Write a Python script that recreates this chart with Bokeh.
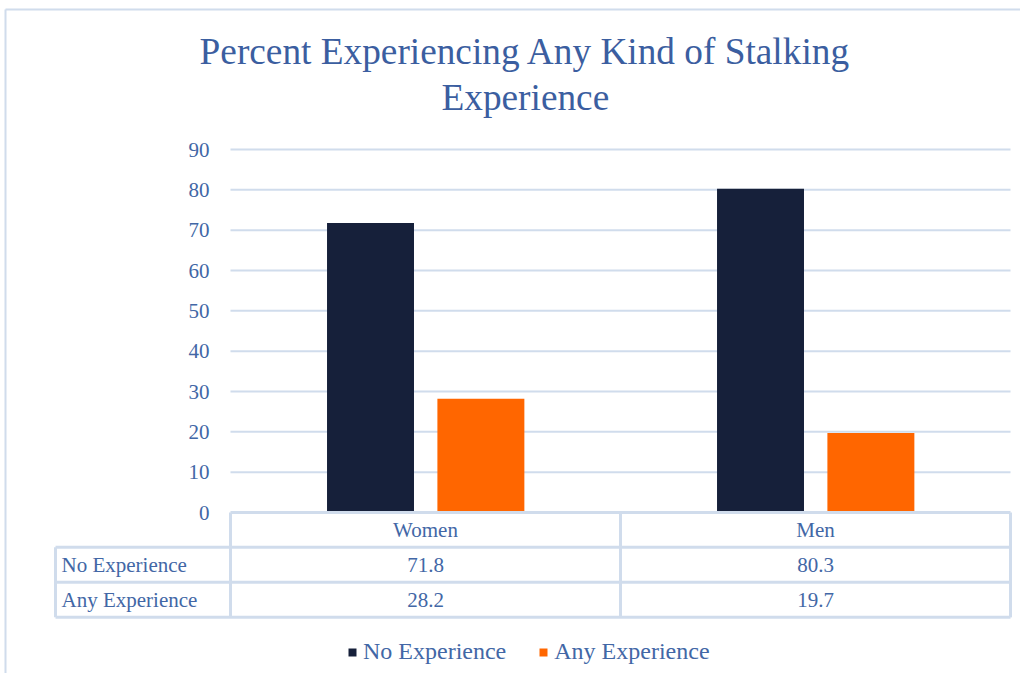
from bokeh.plotting import figure
from bokeh.models import Range1d, Legend, LegendItem
from bokeh.core.properties import value
from bokeh.embed import file_html
from bokeh.resources import INLINE

# ---- data ----
categories = ["Women", "Men"]
series_names = ["No Experience", "Any Experience"]
no_experience = [71.8, 80.3]
any_experience = [28.2, 19.7]
y_ticks = [0, 10, 20, 30, 40, 50, 60, 70, 80, 90]
title_text = "Percent Experiencing Any Kind of Stalking\nExperience"

# ---- style ----
FONT_NAME = "Liberation Serif"
FONT = value(FONT_NAME)
TXT = "#4267A6"
GRID = "#D0DCEC"
DARK = "#16203A"
ORANGE = "#FF6600"

W, H = 1020, 673
px_per_x = 390.0
left_px = 230.0
px_per_y = 4.0333
zero_px_from_top = 512.0
x0 = -left_px / px_per_x
x1 = (W - left_px) / px_per_x
y1 = zero_px_from_top / px_per_y
y0 = -(H - zero_px_from_top) / px_per_y

p = figure(width=W, height=H, x_range=Range1d(x0, x1), y_range=Range1d(y0, y1),
           output_backend="svg", toolbar_location=None,
           x_axis_location=None, y_axis_location=None,
           min_border=0, min_border_left=0, min_border_right=0,
           min_border_top=0, min_border_bottom=0)
p.grid.visible = False
p.outline_line_color = None
p.background_fill_color = "white"

n = len(categories)
centers = [i + 0.5 for i in range(n)]

# gridlines
grid_y = [t for t in y_ticks if t > 0]
p.segment(x0=[0] * len(grid_y), x1=[n] * len(grid_y), y0=grid_y, y1=grid_y,
          line_color=GRID, line_width=2)

# bars
bw = 0.223
off = 0.141
r_no = p.vbar(x=[c - off for c in centers], top=no_experience, bottom=0, width=bw,
              fill_color=DARK, line_color=None)
r_any = p.vbar(x=[c + off + 0.001 for c in centers], top=any_experience, bottom=0, width=bw,
               fill_color=ORANGE, line_color=None)

# value-axis labels
p.text(x=[-0.054] * len(y_ticks), y=y_ticks, text=[str(t) for t in y_ticks],
       text_font=FONT, text_font_size="21px", text_color=TXT,
       text_align="right", text_baseline="middle")

# title
p.text(x=[0.756], y=[108.6], text=[title_text], text_font=FONT,
       text_font_size="37.3px",
       text_color="#3B5EA0", text_align="center", text_baseline="middle",
       text_line_height=1.12)

# data table
row_h = 8.6
hdr_bot = -row_h
r1_bot = -2 * row_h - 0.1
r2_bot = -26.0
tab_left = -0.4487
hx0 = [0, tab_left, tab_left, tab_left]
hx1 = [n, n, n, n]
hy = [0, hdr_bot, r1_bot, r2_bot]
p.segment(x0=hx0, x1=hx1, y0=hy, y1=hy, line_color=GRID, line_width=3)
vx = [tab_left] + list(range(n + 1))
vy0 = [hdr_bot] + [0] * (n + 1)
p.segment(x0=vx, x1=vx, y0=vy0, y1=[r2_bot] * len(vx), line_color=GRID, line_width=3)

p.text(x=centers, y=[hdr_bot / 2] * n, text=categories, text_font=FONT,
       text_font_size="21px", text_color=TXT, text_align="center", text_baseline="middle")
rows = [no_experience, any_experience]
row_mid = [(hdr_bot + r1_bot) / 2, (r1_bot + r2_bot) / 2]
for name, vals, ym in zip(series_names, rows, row_mid):
    p.text(x=[tab_left + 0.0154], y=[ym], text=[name], text_font=FONT,
           text_font_size="21px", text_color=TXT, text_align="left", text_baseline="middle")
    p.text(x=centers, y=[ym] * n, text=[f"{v:.1f}" for v in vals], text_font=FONT,
           text_font_size="21px", text_color=TXT, text_align="center", text_baseline="middle")

# outer border (left / top)
bx = x0 + 5 / px_per_x
by = y1 - 9 / px_per_y
p.segment(x0=[bx, bx], x1=[bx, x1], y0=[y0, by], y1=[by, by],
          line_color=GRID, line_width=2)

legend = Legend(items=[LegendItem(label=series_names[0], renderers=[r_no]),
                       LegendItem(label=series_names[1], renderers=[r_any])],
                orientation="horizontal", location=(347, 8),
                glyph_width=10, glyph_height=10, label_standoff=6, spacing=32,
                padding=0, margin=0, border_line_color=None, background_fill_alpha=0,
                label_text_font=FONT_NAME, label_text_font_size="24px",
                label_text_color=TXT)
p.add_layout(legend)

open("out.html", "w").write(file_html(p, INLINE))
